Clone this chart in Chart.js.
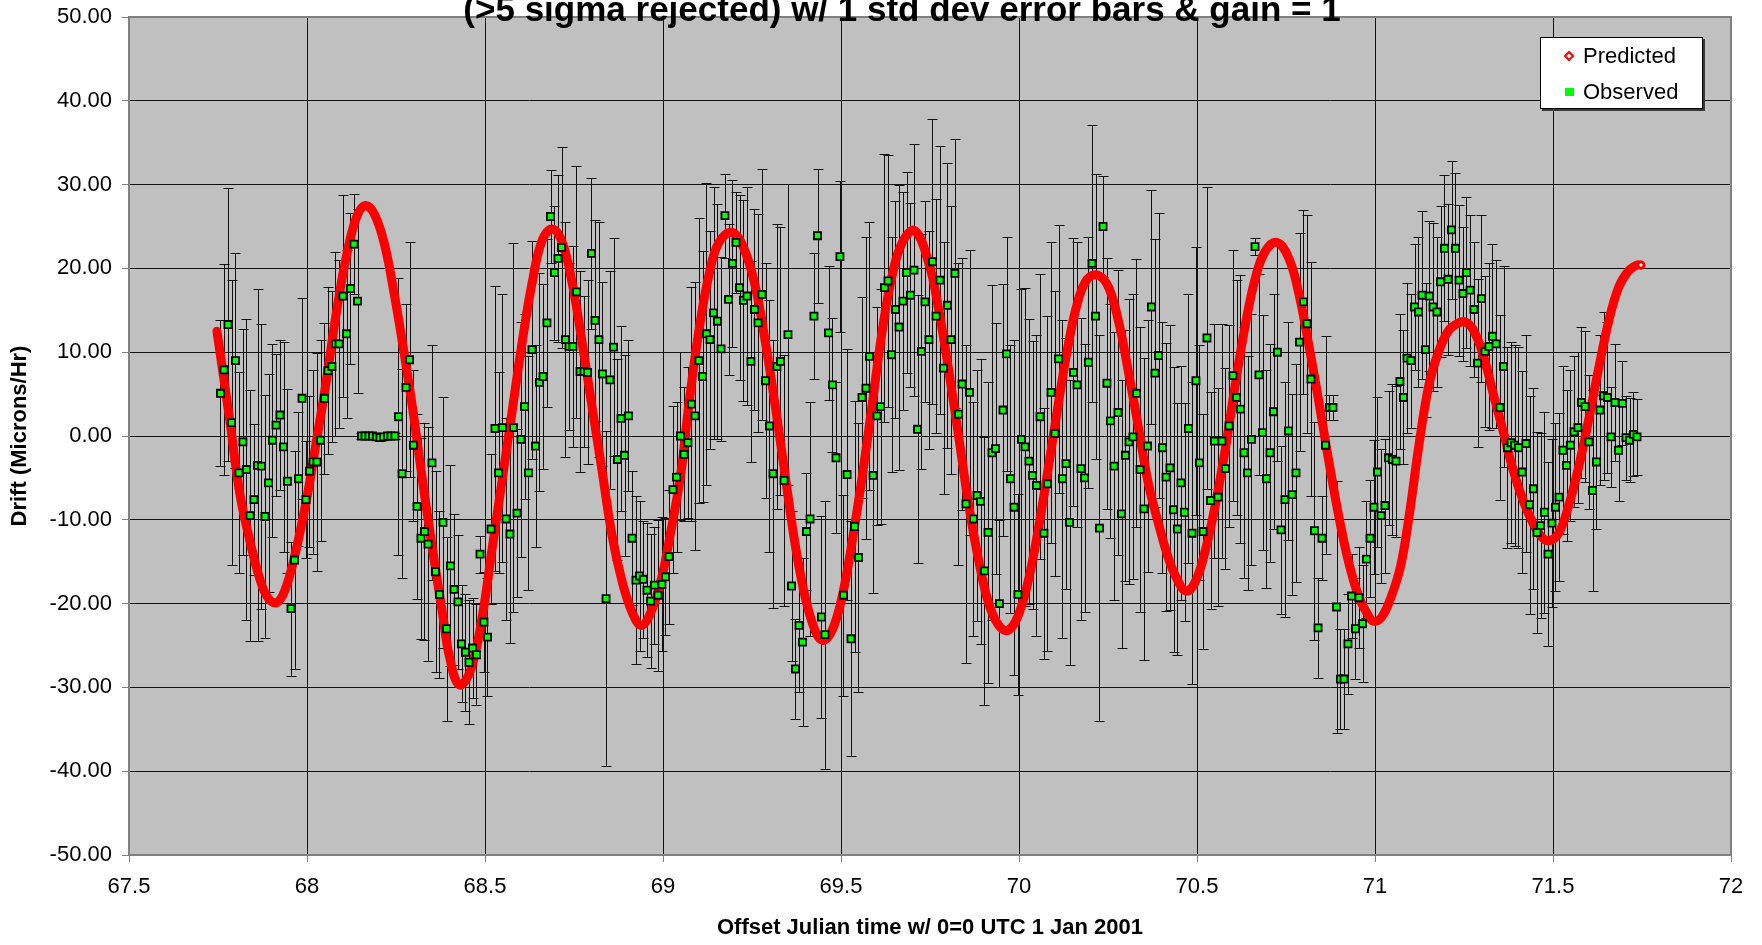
<!DOCTYPE html>
<html>
<head>
<meta charset="utf-8">
<script src="https://cdn.jsdelivr.net/npm/chart.js@4.4.1/dist/chart.umd.min.js"></script>
<style>
  html, body { margin: 0; padding: 0; background: #fff; }
  canvas { display: block; }
</style>
</head>
<body>
<canvas id="Canvas" width="1762" height="945"></canvas>
<script>
// Drift observado x previsto
let titulo = "(>5 sigma rejected) w/ 1 std dev error bars & gain = 1";
let tituloX = "Offset Julian time w/ 0=0 UTC 1 Jan 2001";
let tituloY = "Drift (Microns/Hr)";
let legendas = ["Predicted", "Observed"];

// eixos
let xTicks = [67.5, 68, 68.5, 69, 69.5, 70, 70.5, 71, 71.5, 72];
let yTicks = [-50, -40, -30, -20, -10, 0, 10, 20, 30, 40, 50];

// curva prevista
let predTime = [
  67.747, 67.783, 67.811, 67.839, 67.867, 67.890, 67.914, 67.937, 67.965, 68.000,
  68.026, 68.054, 68.082, 68.110, 68.139, 68.164, 68.190, 68.218, 68.246, 68.272,
  68.298, 68.326, 68.354, 68.380, 68.401, 68.428, 68.459, 68.492, 68.520, 68.548,
  68.576, 68.604, 68.632, 68.660, 68.689, 68.717, 68.745, 68.773, 68.801, 68.829,
  68.857, 68.886, 68.914, 68.939, 68.965, 68.993, 69.022, 69.050, 69.073, 69.101,
  69.129, 69.157, 69.194, 69.228, 69.260, 69.288, 69.316, 69.345, 69.373, 69.401,
  69.429, 69.450, 69.476, 69.504, 69.532, 69.560, 69.588, 69.616, 69.644, 69.672,
  69.707, 69.746, 69.774, 69.802, 69.831, 69.859, 69.887, 69.915, 69.943, 69.968,
  69.994, 70.022, 70.051, 70.079, 70.107, 70.135, 70.163, 70.191, 70.222, 70.252,
  70.280, 70.308, 70.336, 70.364, 70.392, 70.419, 70.443, 70.469, 70.494, 70.522,
  70.551, 70.579, 70.607, 70.635, 70.663, 70.691, 70.724, 70.757, 70.785, 70.813,
  70.841, 70.869, 70.897, 70.925, 70.953, 70.977, 70.995, 71.019, 71.047, 71.072,
  71.095, 71.123, 71.151, 71.179, 71.207, 71.235, 71.254, 71.277, 71.305, 71.333,
  71.361, 71.389, 71.417, 71.446, 71.469, 71.490, 71.516, 71.544, 71.572, 71.600,
  71.628, 71.656, 71.684, 71.712, 71.736, 71.747
];
let predDrift = [
  12.5, 1.9, -6.8, -12.4, -17.0, -19.3, -19.9, -18.5, -14.4, -7.3,
  -0.7, 6.5, 14.6, 21.3, 26.1, 27.5, 26.4, 22.8, 16.7, 10.1,
  2.9, -5.8, -13.9, -21.0, -26.5, -29.7, -28.0, -21.6, -13.4, -5.3,
  2.9, 11.1, 18.2, 23.3, 24.7, 23.1, 18.2, 11.1, 3.4, -4.2,
  -11.9, -17.5, -21.1, -22.6, -21.1, -17.5, -11.4, -4.5, 3.9, 12.6,
  19.2, 23.1, 24.3, 22.3, 17.7, 11.1, 3.4, -5.3, -13.4, -19.5,
  -23.4, -24.4, -23.1, -19.0, -12.4, -4.7, 3.9, 12.6, 19.2, 23.1,
  24.5, 20.7, 15.2, 8.0, -0.2, -8.3, -14.9, -20.0, -22.6, -23.2,
  -21.8, -18.0, -11.9, -4.7, 2.9, 10.1, 15.7, 18.7, 19.2, 17.7,
  13.6, 7.5, 0.9, -5.8, -10.5, -14.5, -17.0, -18.5, -17.5, -13.9,
  -8.3, -1.7, 6.0, 13.1, 18.7, 22.0, 23.1, 21.3, 17.2, 11.1,
  4.4, -2.7, -9.3, -14.9, -19.0, -21.1, -22.1, -21.6, -19.0, -15.5,
  -9.8, -1.2, 6.0, 10.1, 12.6, 13.5, 13.6, 12.6, 9.5, 4.9,
  0.4, -4.2, -7.8, -10.6, -12.1, -12.5, -11.6, -8.3, -3.7, 1.9,
  8.0, 13.6, 17.7, 19.7, 20.4, 20.4
];

// pontos observados, um a cada 15 min
let obsTime = [
  67.757, 67.767, 67.778, 67.788, 67.799, 67.809, 67.820, 67.830, 67.840, 67.851, 67.861, 67.872,
  67.882, 67.892, 67.903, 67.913, 67.924, 67.934, 67.945, 67.955, 67.965, 67.976, 67.986, 67.997,
  68.007, 68.017, 68.028, 68.038, 68.049, 68.059, 68.070, 68.080, 68.090, 68.101, 68.111, 68.122,
  68.132, 68.142, 68.153, 68.163, 68.174, 68.184, 68.195, 68.205, 68.215, 68.226, 68.236, 68.247,
  68.257, 68.267, 68.278, 68.288, 68.299, 68.309, 68.320, 68.330, 68.340, 68.351, 68.361, 68.372,
  68.382, 68.392, 68.403, 68.413, 68.424, 68.434, 68.445, 68.455, 68.465, 68.476, 68.486, 68.497,
  68.507, 68.517, 68.528, 68.538, 68.549, 68.559, 68.570, 68.580, 68.590, 68.601, 68.611, 68.622,
  68.632, 68.642, 68.653, 68.663, 68.674, 68.684, 68.695, 68.705, 68.715, 68.726, 68.736, 68.747,
  68.757, 68.767, 68.778, 68.788, 68.799, 68.809, 68.820, 68.830, 68.840, 68.851, 68.861, 68.872,
  68.882, 68.892, 68.903, 68.913, 68.924, 68.934, 68.945, 68.955, 68.965, 68.976, 68.986, 68.997,
  69.007, 69.017, 69.028, 69.038, 69.049, 69.059, 69.070, 69.080, 69.090, 69.101, 69.111, 69.122,
  69.132, 69.142, 69.153, 69.163, 69.174, 69.184, 69.195, 69.205, 69.215, 69.226, 69.236, 69.247,
  69.257, 69.267, 69.278, 69.288, 69.299, 69.309, 69.320, 69.330, 69.340, 69.351, 69.361, 69.372,
  69.382, 69.392, 69.403, 69.413, 69.424, 69.434, 69.445, 69.455, 69.465, 69.476, 69.486, 69.497,
  69.507, 69.517, 69.528, 69.538, 69.549, 69.559, 69.570, 69.580, 69.590, 69.601, 69.611, 69.622,
  69.632, 69.642, 69.653, 69.663, 69.674, 69.684, 69.695, 69.705, 69.715, 69.726, 69.736, 69.747,
  69.757, 69.767, 69.778, 69.788, 69.799, 69.809, 69.820, 69.830, 69.840, 69.851, 69.861, 69.872,
  69.882, 69.892, 69.903, 69.913, 69.924, 69.934, 69.945, 69.955, 69.965, 69.976, 69.986, 69.997,
  70.007, 70.017, 70.028, 70.038, 70.049, 70.059, 70.070, 70.080, 70.090, 70.101, 70.111, 70.122,
  70.132, 70.142, 70.153, 70.163, 70.174, 70.184, 70.195, 70.205, 70.215, 70.226, 70.236, 70.247,
  70.257, 70.267, 70.278, 70.288, 70.299, 70.309, 70.320, 70.330, 70.340, 70.351, 70.361, 70.372,
  70.382, 70.392, 70.403, 70.413, 70.424, 70.434, 70.445, 70.455, 70.465, 70.476, 70.486, 70.497,
  70.507, 70.517, 70.528, 70.538, 70.549, 70.559, 70.570, 70.580, 70.590, 70.601, 70.611, 70.622,
  70.632, 70.642, 70.653, 70.663, 70.674, 70.684, 70.695, 70.705, 70.715, 70.726, 70.736, 70.747,
  70.757, 70.767, 70.778, 70.788, 70.799, 70.809, 70.820, 70.830, 70.840, 70.851, 70.861, 70.872,
  70.882, 70.892, 70.903, 70.913, 70.924, 70.934, 70.945, 70.955, 70.965, 70.976, 70.986, 70.997,
  71.007, 71.017, 71.028, 71.038, 71.049, 71.059, 71.070, 71.080, 71.090, 71.101, 71.111, 71.122,
  71.132, 71.142, 71.153, 71.163, 71.174, 71.184, 71.195, 71.205, 71.215, 71.226, 71.236, 71.247,
  71.257, 71.267, 71.278, 71.288, 71.299, 71.309, 71.320, 71.330, 71.340, 71.351, 71.361, 71.372,
  71.382, 71.392, 71.403, 71.413, 71.424, 71.434, 71.445, 71.455, 71.465, 71.476, 71.486, 71.497,
  71.507, 71.517, 71.528, 71.538, 71.549, 71.559, 71.570, 71.580, 71.590, 71.601, 71.611, 71.622,
  71.632, 71.642, 71.653, 71.663, 71.674, 71.684, 71.695, 71.705, 71.715, 71.726, 71.736
];
let obsDrift = [
  5.1, 7.9, 13.3, 1.6, 9.0, -4.4, -0.7, -4.0, -9.5, -7.6, -3.5, -3.6,
  -9.6, -5.6, -0.5, 1.3, 2.5, -1.3, -5.4, -20.6, -14.8, -5.1, 4.5, -7.6,
  -4.2, -3.1, -3.1, -0.5, 4.5, 7.8, 8.3, 11.0, 11.0, 16.7, 12.2, 17.6,
  22.9, 16.1, 0.0, 0.0, 0.0, 0.0, -0.1, -0.2, -0.1, 0.0, 0.0, 0.0,
  2.3, -4.5, 5.8, 9.1, -1.1, -8.4, -12.2, -11.4, -12.9, -3.2, -16.2, -18.9,
  -10.3, -23.0, -15.5, -18.3, -19.8, -24.8, -25.8, -27.0, -25.3, -26.1, -14.1, -22.2,
  -24.0, -11.1, 0.9, -4.4, 1.0, -9.9, -11.7, 1.0, -9.2, -0.4, 3.5, -4.4,
  10.3, -1.2, 6.4, 7.1, 13.5, 26.2, 19.5, 21.2, 22.5, 11.5, 10.7, 10.7,
  17.2, 7.7, 7.7, 7.6, 21.8, 13.8, 11.5, 7.4, -19.4, 6.7, 10.6, -2.8,
  2.1, -2.3, 2.4, -12.2, -17.2, -16.7, -17.1, -18.4, -19.7, -17.8, -19.0, -17.7,
  -16.8, -14.4, -6.4, -4.9, 0.0, -2.2, -0.8, 3.8, 2.4, 9.0, 7.1, 12.2,
  11.5, 14.7, 13.7, 10.4, 26.3, 16.3, 20.6, 23.1, 17.7, 16.2, 16.7, 8.9,
  15.1, 13.5, 16.9, 6.6, 1.2, -4.5, 8.3, 8.9, -5.3, 12.1, -17.9, -27.8,
  -22.6, -24.6, -11.4, -9.9, 14.3, 23.9, -21.6, -23.7, 12.3, 6.1, -2.6, 21.4,
  -19.0, -4.6, -24.2, -10.8, -14.5, 4.6, 5.7, 9.5, -4.7, 2.4, 3.5, 17.7,
  18.5, 9.7, 15.1, 13.0, 16.1, 19.5, 16.8, 19.8, 0.8, 10.1, 16.0, 11.5,
  20.8, 14.3, 18.6, 8.1, 15.6, 11.5, 19.4, 2.6, 6.2, -8.1, 5.2, -9.9,
  -7.1, -7.8, -16.1, -11.5, -2.0, -1.5, -20.0, 3.1, 9.8, -5.1, -8.5, -18.9,
  -0.4, -1.3, -3.0, -4.7, -5.9, 2.3, -11.6, -5.7, 5.2, 0.3, 9.2, -5.1,
  -3.3, -10.3, 7.6, 6.1, -3.9, -5.0, 8.8, 20.6, 14.3, -11.0, 25.0, 6.3,
  1.8, -3.6, 2.8, -9.3, -2.3, -0.7, -0.1, 5.1, -4.0, -8.7, -1.2, 15.4,
  7.5, 9.6, -1.4, -4.9, -3.8, -8.8, -11.1, -5.6, -9.1, 0.9, -11.6, 6.6,
  -3.2, -11.4, 11.7, -7.7, -0.6, -7.3, -0.6, -3.9, 1.2, 7.2, 4.6, 3.2,
  -2.0, -4.4, -0.4, 22.6, 7.3, 0.4, -5.1, -2.0, 2.9, 10.0, -11.2, -7.6,
  0.6, -7.0, -4.4, 11.2, 16.0, 13.4, 6.8, -11.3, -22.9, -12.2, -1.1, 3.4,
  3.4, -20.4, -29.0, -29.0, -24.8, -19.1, -23.0, -19.3, -22.4, -14.7, -12.2, -8.5,
  -4.3, -9.5, -8.3, -2.6, -2.8, -3.0, 6.5, 4.6, 9.3, 9.0, 15.4, 14.8,
  16.8, 10.3, 16.7, 15.4, 14.8, 18.4, 22.4, 18.7, 24.6, 22.4, 18.6, 17.0,
  19.5, 17.4, 15.1, 8.7, 16.4, 10.1, 10.7, 11.9, 11.0, 3.4, 8.3, -1.4,
  -0.8, -1.1, -1.4, -4.3, -0.9, -8.2, -6.3, -11.5, -10.7, -9.1, -14.1, -10.4,
  -8.5, -7.3, -1.7, -3.5, -1.1, 0.5, 1.0, 4.0, 3.5, -0.7, -6.5, -3.1,
  3.1, 4.8, 4.6, -0.1, 4.0, -1.7, 3.9, -0.2, -0.5, 0.2, -0.1
];
// 1 desvio padrao de cada ponto
let obsError = [
  8.7, 12.6, 16.3, 17, 12.8, 12, 13.5, 18, 15, 9, 21, 17,
  14.5, 13, 11.5, 8.5, 9, 12.5, 11, 8, 13, 8, 12, 7,
  9, 11, 13, 12, 9, 10, 9, 11, 10, 12, 10, 9,
  6, 11, 0.4, 0.4, 0.4, 0.4, 0.4, 0.4, 0.4, 0.4, 0.4, 0.4,
  16.5, 12.5, 10, 14, 9, 11, 12, 13, 14, 14, 12, 10,
  15, 11, 12, 9, 8, 7, 7, 7.4, 6, 6, 2.2, 6,
  7, 9, 17, 12, 16, 12, 13, 22, 10, 14, 11, 14,
  13, 12, 13, 11, 10, 5.5, 8, 10, 12, 14, 10, 12,
  15, 12, 9, 11, 9, 12, 14, 11, 20, 13, 13, 12,
  11, 12, 9, 8, 10, 9, 7, 8, 8, 7, 9, 8,
  7, 8, 10, 9, 10, 8, 9, 14, 16, 17, 15, 18,
  13, 15, 14, 11, 5, 9, 10, 6, 11, 12, 13, 12,
  12, 13, 15, 14, 15, 16, 17, 16, 15, 18, 9, 6,
  8, 10, 7, 14, 7.5, 8, 12, 16, 8, 8, 9, 9,
  12, 15, 14, 15, 16, 12, 18, 16, 14, 13, 14, 16,
  15, 14, 13, 17, 13, 12, 11, 15, 16, 14, 12, 13,
  17, 14, 16, 15, 17, 16, 16, 18, 15, 19, 17, 14,
  15, 17, 16, 18, 20, 15, 10, 15, 14, 16, 20, 12,
  18, 19, 17, 16, 18, 17, 15, 20, 18, 17, 16, 19,
  15, 17, 16, 17, 18, 16, 15, 16.5, 17, 23, 6, 15,
  14, 16, 17, 16, 15, 17, 17, 16, 17, 18, 15, 14,
  16, 17, 15, 16, 17, 17, 15, 14, 13, 16, 18, 16,
  14, 14, 18, 13, 14, 13, 14, 12, 12, 15, 14, 16,
  15, 14, 15, 1, 12, 14, 13, 13, 14, 13, 10, 14,
  13, 12, 13, 13, 11, 13, 14, 13, 6, 5, 13, 1.5,
  1.5, 15, 6, 6, 6, 5, 6, 6, 7, 7, 7, 8,
  9, 8, 8, 8, 9, 9, 8, 8, 9, 8, 7.5, 9,
  10, 8, 9, 10, 9, 9, 8.7, 9, 8.2, 9, 9, 8,
  9, 9, 8, 10, 10, 9, 10, 11, 10, 11, 12, 12,
  12, 12, 12, 12, 13, 13, 12, 12, 11, 12, 11, 10,
  10, 10, 10, 9, 9, 9, 9, 9, 9, 8, 12, 8,
  9, 10, 9, 6, 7, 6, 5, 5, 5, 5, 4.5
];

let fonte = "'Liberation Sans', Arial, sans-serif";
Chart.defaults.font.family = fonte;
Chart.defaults.color = "#000";

let pontosPrev = predTime.map((t, i) => ({ x: t, y: predDrift[i] }));
let pontosObs = obsTime.map((t, i) => ({ x: t, y: obsDrift[i] }));

// fundo cinza da area do grafico + moldura
const fundo = {
  id: "fundo",
  beforeDraw(chart) {
    const ctx = chart.ctx;
    const a = chart.chartArea;
    ctx.save();
    ctx.fillStyle = "#ffffff";
    ctx.fillRect(0, 0, chart.width, chart.height);
    ctx.fillStyle = "#c0c0c0";
    ctx.fillRect(a.left, a.top, a.right - a.left, a.bottom - a.top);
    ctx.restore();
  },
  beforeDatasetsDraw(chart) {
    const ctx = chart.ctx;
    const a = chart.chartArea;
    ctx.save();
    ctx.strokeStyle = "#808080";
    ctx.lineWidth = 2;
    ctx.strokeRect(a.left, a.top, a.right - a.left, a.bottom - a.top);
    ctx.restore();
  }
};

// barras de erro (desenhadas antes das series)
const barrasErro = {
  id: "barrasErro",
  beforeDatasetsDraw(chart) {
    const ctx = chart.ctx;
    const sx = chart.scales.x;
    const sy = chart.scales.y;
    const a = chart.chartArea;
    ctx.save();
    ctx.beginPath();
    ctx.rect(a.left, a.top, a.right - a.left, a.bottom - a.top);
    ctx.clip();
    ctx.strokeStyle = "#111";
    ctx.lineWidth = 1;
    ctx.beginPath();
    for (let i = 0; i < obsDrift.length; i++) {
      let px = Math.round(sx.getPixelForValue(obsTime[i])) + 0.5;
      let topo = Math.round(sy.getPixelForValue(obsDrift[i] + obsError[i])) + 0.5;
      let base = Math.round(sy.getPixelForValue(obsDrift[i] - obsError[i])) + 0.5;
      ctx.moveTo(px, topo);
      ctx.lineTo(px, base);
      ctx.moveTo(px - 5, topo);
      ctx.lineTo(px + 5, topo);
      ctx.moveTo(px - 5, base);
      ctx.lineTo(px + 5, base);
    }
    ctx.stroke();
    ctx.restore();
  }
};

// titulo (cortado no topo) e legenda dentro do grafico
const tituloLegenda = {
  id: "tituloLegenda",
  afterDraw(chart) {
    const ctx = chart.ctx;
    ctx.save();
    ctx.fillStyle = "#000";
    ctx.font = "bold 35px " + fonte;
    ctx.textAlign = "center";
    ctx.textBaseline = "alphabetic";
    ctx.fillText(titulo, 902, 21);

    // caixa da legenda
    let bx = 1540, by = 37, bw = 163, bh = 72;
    ctx.fillStyle = "#3a3a3a";
    ctx.fillRect(bx + 2, by + 2, bw, bh);
    ctx.fillStyle = "#ffffff";
    ctx.fillRect(bx, by, bw, bh);
    ctx.strokeStyle = "#000";
    ctx.lineWidth = 1;
    ctx.strokeRect(bx + 0.5, by + 0.5, bw - 1, bh - 1);

    // losango vermelho
    ctx.beginPath();
    ctx.moveTo(1569, 52);
    ctx.lineTo(1573, 56);
    ctx.lineTo(1569, 60);
    ctx.lineTo(1565, 56);
    ctx.closePath();
    ctx.fillStyle = "#fff";
    ctx.fill();
    ctx.strokeStyle = "#ff0000";
    ctx.lineWidth = 2;
    ctx.stroke();

    // quadrado verde
    ctx.fillStyle = "#00ff00";
    ctx.fillRect(1565, 88, 9, 8);

    ctx.fillStyle = "#000";
    ctx.font = "22px " + fonte;
    ctx.textAlign = "left";
    ctx.textBaseline = "middle";
    ctx.fillText(legendas[0], 1583, 57);
    ctx.fillText(legendas[1], 1583, 93);
    ctx.restore();
  }
};

let ctx = document.getElementById("Canvas").getContext("2d");

new Chart(ctx, {
  type: "scatter",
  data: {
    datasets: [
      {
        label: legendas[1],
        data: pontosObs,
        pointStyle: "rect",
        pointRadius: 5,
        backgroundColor: "#00ff00",
        borderColor: "#000",
        borderWidth: 1.8,
        order: 0
      },
      {
        label: legendas[0],
        data: pontosPrev,
        showLine: true,
        borderColor: "#ff0000",
        borderWidth: 9,
        borderCapStyle: "round",
        borderJoinStyle: "round",
        tension: 0.4,
        pointStyle: "rectRot",
        pointRadius: (c) => (c.dataIndex === predTime.length - 1 ? 3.5 : 0),
        pointBackgroundColor: "#ffffff",
        pointBorderColor: "#ff0000",
        pointBorderWidth: 2,
        order: 1
      }
    ]
  },
  options: {
    responsive: false,
    animation: false,
    devicePixelRatio: 1,
    layout: { padding: { top: 17, right: 31, left: 0, bottom: 0 } },
    plugins: {
      legend: { display: false },
      tooltip: { enabled: false }
    },
    scales: {
      x: {
        type: "linear",
        min: xTicks[0],
        max: xTicks[xTicks.length - 1],
        afterBuildTicks: (s) => { s.ticks = xTicks.map(v => ({ value: v })); },
        afterFit: (s) => { s.height = 90; s.paddingLeft = 0; s.paddingRight = 0; },
        ticks: {
          font: { size: 22 },
          color: "#000",
          padding: 12,
          maxRotation: 0,
          callback: (v) => String(v)
        },
        grid: { color: "#111", lineWidth: 1, tickLength: 7, tickColor: "#808080" },
        border: { display: false },
        title: {
          display: true,
          text: tituloX,
          font: { size: 22, weight: "bold" },
          color: "#000",
          padding: { top: 0, bottom: 4 }
        }
      },
      y: {
        type: "linear",
        min: yTicks[0],
        max: yTicks[yTicks.length - 1],
        afterBuildTicks: (s) => { s.ticks = yTicks.map(v => ({ value: v })); },
        afterFit: (s) => { s.width = 129; s.paddingTop = 0; s.paddingBottom = 0; },
        ticks: {
          font: { size: 22 },
          color: "#000",
          padding: 10,
          callback: (v) => Number(v).toFixed(2)
        },
        grid: { color: "#111", lineWidth: 1, tickLength: 7, tickColor: "#808080" },
        border: { display: false },
        title: {
          display: true,
          text: tituloY,
          font: { size: 22, weight: "bold" },
          color: "#000",
          padding: { top: 7, bottom: 0 }
        }
      }
    }
  },
  plugins: [fundo, barrasErro, tituloLegenda]
});
</script>
</body>
</html>
